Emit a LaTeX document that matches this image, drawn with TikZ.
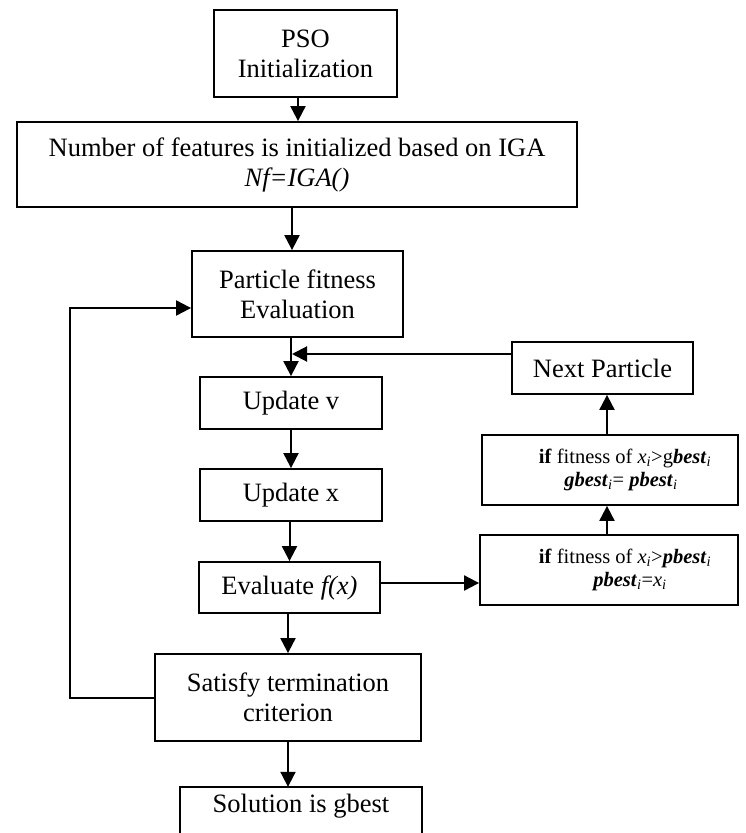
\documentclass[tikz,border=0pt]{standalone}
\usepackage{fontspec}
\setmainfont{Liberation Serif}
\usetikzlibrary{arrows.meta}
\begin{document}
\begin{tikzpicture}[x=1pt,y=-1pt,
  box/.style={draw, line width=1.8pt, inner sep=0pt, align=center, font=\fontsize{26.5}{30}\selectfont},
  sbox/.style={box, font=\fontsize{20.5}{23}\selectfont},
  txt/.style={inner sep=0pt, align=center, font=\fontsize{26.5}{30}\selectfont},
  arr/.style={line width=2pt, -{Triangle[length=15pt,width=15pt]}},
  boxline/.style={line width=1.8pt}]
\useasboundingbox (0,0) rectangle (745,833);
\node[box, minimum width=183pt, minimum height=87pt] (pso) at (305.5,53.5) {PSO\\Initialization};
\node[box, minimum width=560pt, minimum height=85pt] (num) at (297,164.5) {Number of features is initialized based on IGA\\\textit{Nf=IGA()}};
\node[box, minimum width=211pt, minimum height=86pt] (part) at (297.5,294) {Particle fitness\\Evaluation};
\node[box, minimum width=182pt, minimum height=52pt] (uv) at (291,403) {Update v};
\node[box, minimum width=182pt, minimum height=52pt] (ux) at (291,495) {Update x};
\node[box, minimum width=181pt, minimum height=51pt] (ev) at (289.5,587.5) {Evaluate \textit{f(x)}};
\node[box, minimum width=266pt, minimum height=87pt] (sat) at (288,697.5) {Satisfy termination\\criterion};
\node[txt, minimum width=242pt, minimum height=38pt] (sol) at (301,806) {Solution is gbest};
\draw[boxline] (sol.north west |- 0,833) -- (sol.north west) -- (sol.north east) -- (sol.north east |- 0,833);
\node[box, minimum width=181pt, minimum height=52pt] (np) at (602.5,368) {Next Particle};
\node[sbox, minimum width=256pt, minimum height=70pt] (gb) at (610,470)
  {\hspace*{30pt}\textbf{if} fitness of \textit{x}\textsubscript{\textit{i}}>g\textbf{\textit{best}}\textsubscript{\textit{i}}\\
   \hspace*{22pt}\textbf{\textit{gbest}}\textsubscript{\textit{i}}= \textbf{\textit{pbest}}\textsubscript{\textit{i}}};
\node[sbox, minimum width=258pt, minimum height=70pt] (pb) at (609,570)
  {\hspace*{32pt}\textbf{if} fitness of \textit{x}\textsubscript{\textit{i}}>\textbf{\textit{pbest}}\textsubscript{\textit{i}}\\
   \hspace*{42pt}\textbf{\textit{pbest}}\textsubscript{\textit{i}}=\textit{x}\textsubscript{\textit{i}}};
\coordinate (fb) at (70,308);
\draw[arr] ([xshift=-7.5pt]pso.south) -- ([xshift=-7.5pt]pso.south |- num.north);
\draw[arr] ([xshift=-5pt]num.south) -- ([xshift=-5pt]num.south |- part.north);
\draw[arr] (uv.north |- part.south) -- (uv.north);
\draw[arr] (uv.south) -- (ux.north);
\draw[arr] (ev.north |- ux.south) -- (ev.north);
\draw[arr] (sat.north |- ev.south) -- (sat.north);
\draw[arr] (sat.south) -- (sat.south |- sol.north);
\draw[arr] (sat.west) -- (sat.west -| fb) -- (fb) -- (fb -| part.west);
\draw[arr] ([yshift=4.5pt]ev.east) -- ([yshift=4.5pt]ev.east -| pb.west);
\draw[arr] ([xshift=-2pt]pb.north) -- ([xshift=-2pt]pb.north |- gb.south);
\draw[arr] ([xshift=-3pt]gb.north) -- ([xshift=-3pt]gb.north |- np.south);
\draw[arr, shorten >=1pt] ([yshift=14pt]np.west) -- ([yshift=14pt]np.west -| uv.north);
\end{tikzpicture}
\end{document}
